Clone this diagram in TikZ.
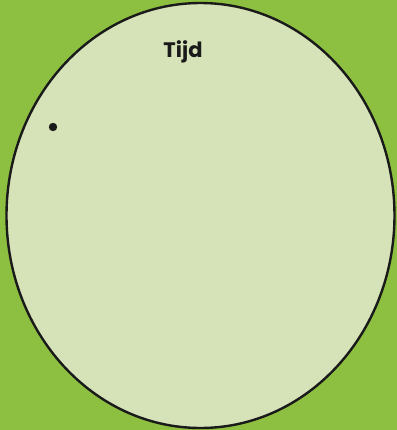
\documentclass[tikz,border=0pt]{standalone}
\usepackage{fontspec}
\setsansfont{Poppins}
\usetikzlibrary{positioning}
\definecolor{meadow}{HTML}{8DBF41}
\definecolor{pale}{HTML}{D6E3B8}
\definecolor{ink}{HTML}{1A1A1A}

\begin{document}
\begin{tikzpicture}[
  x=0.5pt, y=-0.5pt,
  rim/.style={draw=ink, fill=pale, line width=1.2pt},
  label/.style={font=\sffamily\bfseries\fontsize{10.5}{12}\selectfont, text=ink, inner sep=0pt},
]
\fill[meadow] (0,0) rectangle (397,430);
\useasboundingbox (0,0) rectangle (397,430);

\draw[rim] (200.5,215.5) ellipse [x radius=194, y radius=212.5];

\node[label] (tijd) at (183,52) {Tijd};
\coordinate (spot) at (53,127);
\fill[ink] (spot) circle [radius=4.2];

\end{tikzpicture}
\end{document}
